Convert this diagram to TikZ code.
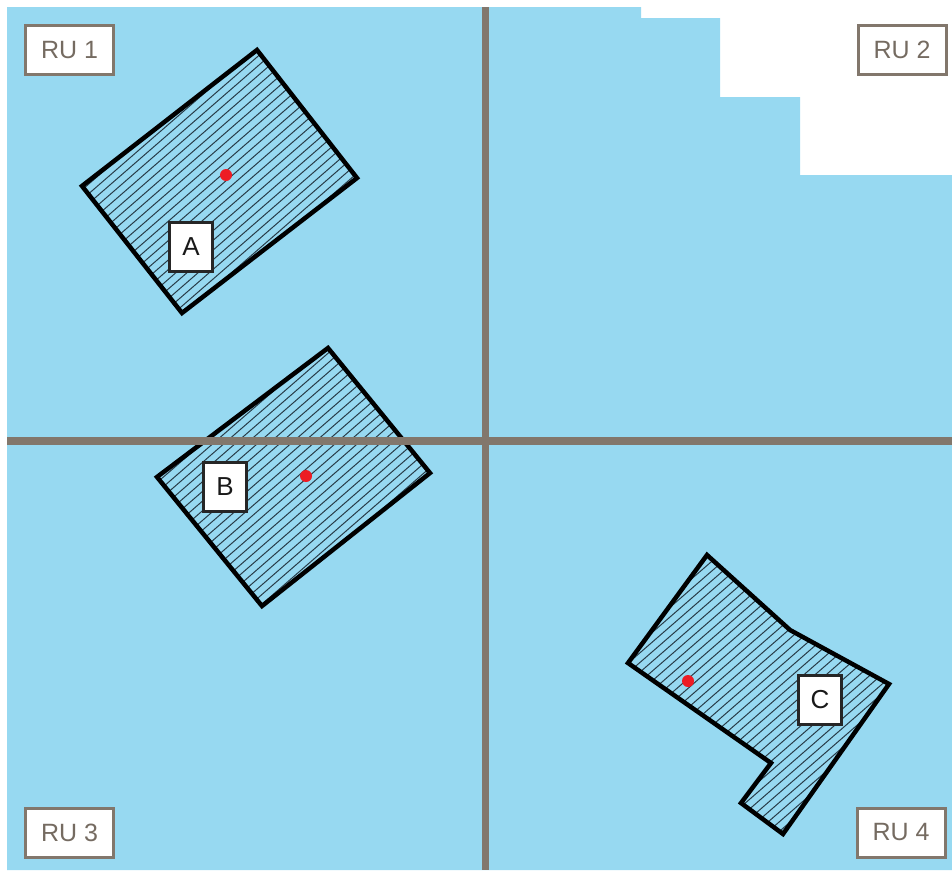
\documentclass[tikz,border=0pt]{standalone}
\usepackage{fontspec}
\setmainfont{Liberation Sans}
\definecolor{skyfill}{RGB}{151,217,241}
\definecolor{gridbrown}{RGB}{130,119,108}
\definecolor{hatchslate}{RGB}{40,60,72}
\definecolor{centroidred}{RGB}{237,28,36}
\usetikzlibrary{positioning}

\tikzset{
  ru box/.style={draw=gridbrown, line width=3pt, fill=white, text=gridbrown!90!black, minimum width=88pt, minimum height=49pt, inner sep=0pt, font=\fontsize{25}{25}\selectfont},
  letter box/.style={draw=black!85, line width=3pt, fill=white, text=black!90, minimum width=43pt, minimum height=49pt, inner sep=0pt, font=\fontsize{26}{26}\selectfont},
  parcel/.style={draw=black, line width=4.5pt, line join=miter},
  hatch line/.style={draw=hatchslate, line width=1pt},
  ru border/.style={draw=gridbrown, line width=7.5pt},
  centroid/.style={circle, fill=centroidred, inner sep=0pt, minimum size=12pt},
}

\begin{document}
\begin{tikzpicture}[x=1pt, y=-1pt]
    \useasboundingbox (0,0) rectangle (952,870);
    % map area
    \fill[skyfill] (7,7) -- (641,7) -- (641,18) -- (720,18) -- (720,97) -- (800,97)
        -- (800,175) -- (952,175) -- (952,870) -- (7,870) -- cycle;

    % hatching of the parcels
    \begin{scope}
        \clip (82,186) -- (257,50) -- (357,178) -- (182,313) -- cycle
              (157,477) -- (328,348) -- (430,473) -- (262,606) -- cycle
              (628,663) -- (707,555) -- (790,630) -- (889,684) -- (783,834) -- (741,803) -- (771,763) -- cycle;
        \foreach \k in {0,...,185}
            \draw[hatch line, rotate=41] (-700,7.3*\k) -- (900,7.3*\k);
    \end{scope}

    % parcel outlines
    \draw[parcel] (82,186) -- (257,50) -- (357,178) -- (182,313) -- cycle;
    \draw[parcel] (157,477) -- (328,348) -- (430,473) -- (262,606) -- cycle;
    \draw[parcel] (628,663) -- (707,555) -- (790,630) -- (889,684) -- (783,834) -- (741,803) -- (771,763) -- cycle;

    % reporting unit borders
    \draw[ru border] (485.5,7) -- (485.5,870);
    \draw[ru border] (7,441) -- (952,441);

    % labels
    \node[ru box] (ru1) at (69.5,50) {RU 1};
    \node[ru box] (ru2) at (902,50) {RU 2};
    \node[ru box] (ru3) at (69.5,832.5) {RU 3};
    \node[ru box] (ru4) at (901,832.5) {RU 4};

    \node[letter box] (lblA) at (191,247) {A};
    \node[letter box] (lblB) at (225,486.5) {B};
    \node[letter box] (lblC) at (820,700) {C};

    % centroids
    \node[centroid] (cenA) at (226,175) {};
    \node[centroid] (cenB) at (306,476) {};
    \node[centroid] (cenC) at (688,681) {};
\end{tikzpicture}
\end{document}
